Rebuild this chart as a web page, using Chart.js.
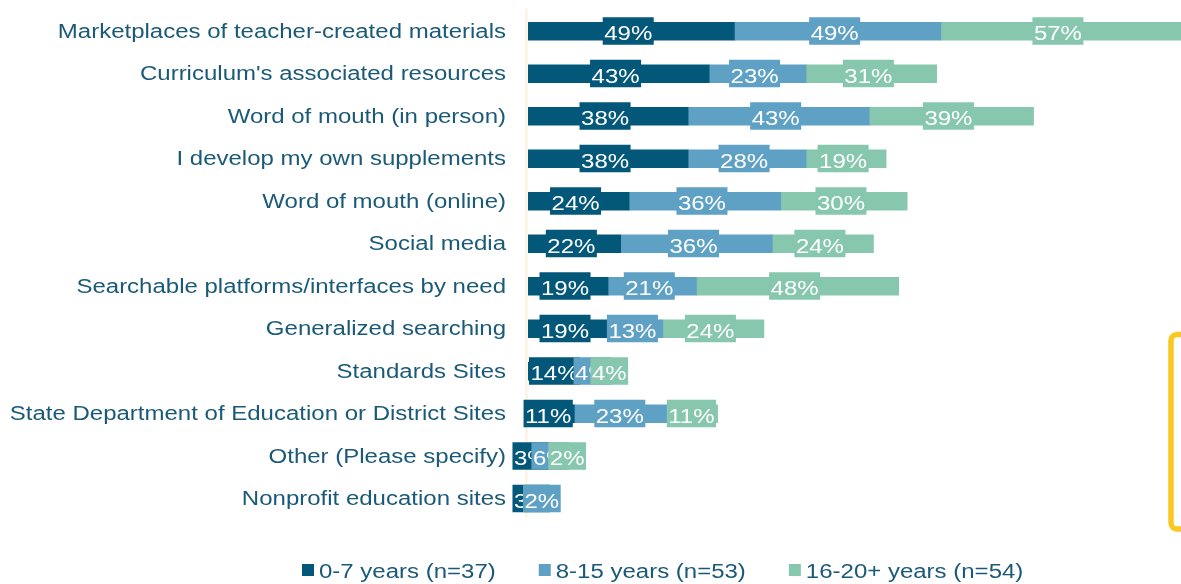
<!DOCTYPE html>
<html>
<head>
<meta charset="utf-8">
<script src="https://cdn.jsdelivr.net/npm/chart.js@4"></script>
<style>
  html, body { margin: 0; padding: 0; background: #ffffff; }
  #wrap { width: 1181px; height: 584px; }
</style>
</head>
<body>
<div id="wrap"><canvas id="chart" width="1181" height="584"></canvas></div>
<script>
// Where teachers find supplemental materials, by years of teaching experience
const categories = [
  'Marketplaces of teacher-created materials',
  "Curriculum's associated resources",
  'Word of mouth (in person)',
  'I develop my own supplements',
  'Word of mouth (online)',
  'Social media',
  'Searchable platforms/interfaces by need',
  'Generalized searching',
  'Standards Sites',
  'State Department of Education or District Sites',
  'Other (Please specify)',
  'Nonprofit education sites'
];
const years0to7 = [49, 43, 38, 38, 24, 22, 19, 19, 14, 11, 3, 3];
const years8to15 = [49, 23, 43, 28, 36, 36, 21, 13, 4, 23, 6, 2];
const years16plus = [57, 31, 39, 19, 30, 24, 48, 24, 4, 11, 2, null];
const seriesNames = ['0-7 years (n=37)', '8-15 years (n=53)', '16-20+ years (n=54)'];
const seriesColors = ['#03587A', '#5FA1C5', '#86C7AE'];

const FONT = '20px "Liberation Sans", Arial, sans-serif';
const TEXT_COLOR = '#1A5A78';
const STRETCH = 1.2; // wide lettering

function stretchedText(ctx, str, x, y, align) {
  const w = ctx.measureText(str).width * STRETCH;
  const left = align === 'right' ? x - w : align === 'center' ? x - w / 2 : x;
  ctx.save();
  ctx.translate(left, y);
  ctx.scale(STRETCH, 1);
  ctx.textAlign = 'left';
  ctx.textBaseline = 'alphabetic';
  ctx.fillText(str, 0, 0);
  ctx.restore();
  return w;
}

const decorations = {
  id: 'decorations',
  beforeDatasetsDraw(chart) {
    const { ctx, chartArea } = chart;
    const yScale = chart.scales.y;
    ctx.save();
    // vertical axis line
    ctx.strokeStyle = '#FCF1D8';
    ctx.lineWidth = 2;
    ctx.beginPath();
    ctx.moveTo(chartArea.left - 1.5, chartArea.top - 1);
    ctx.lineTo(chartArea.left - 1.5, chartArea.bottom - 2);
    ctx.stroke();
    // category labels
    ctx.font = FONT;
    ctx.fillStyle = TEXT_COLOR;
    categories.forEach((name, i) => {
      stretchedText(ctx, name, chartArea.left - 22, yScale.getPixelForTick(i) + 6.5, 'right');
    });
    ctx.restore();
  },
  afterDatasetsDraw(chart) {
    const { ctx } = chart;
    ctx.save();
    ctx.font = FONT;
    chart.data.datasets.forEach((ds, d) => {
      const meta = chart.getDatasetMeta(d);
      meta.data.forEach((bar, i) => {
        const v = ds.data[i];
        if (v === null || v === undefined) return;
        const p = bar.getProps(['x', 'base', 'y'], true);
        const cx = (p.x + p.base) / 2 - 3;
        const text = v + '%';
        const w = ctx.measureText(text).width * STRETCH + 3;
        ctx.fillStyle = ds.backgroundColor;
        ctx.fillRect(cx - w / 2, p.y - 14, w, 27.5);
        ctx.fillStyle = '#ffffff';
        stretchedText(ctx, text, cx, p.y + 9, 'center');
      });
    });
    ctx.restore();
  },
  afterDraw(chart) {
    const { ctx } = chart;
    ctx.save();
    // legend
    ctx.font = FONT;
    let x = 302;
    seriesNames.forEach((name, i) => {
      ctx.fillStyle = seriesColors[i];
      ctx.fillRect(x, 564, 12, 12);
      ctx.fillStyle = TEXT_COLOR;
      const w = stretchedText(ctx, name, x + 17, 578, 'left');
      x += 17 + w + 43;
    });
    // highlight bracket at the right edge
    ctx.strokeStyle = '#F9C824';
    ctx.lineWidth = 5.5;
    ctx.beginPath();
    ctx.roundRect(1171, 334.5, 60, 194.5, 6);
    ctx.stroke();
    ctx.restore();
  }
};

new Chart(document.getElementById('chart'), {
  type: 'bar',
  data: {
    labels: categories,
    datasets: [
      { label: seriesNames[0], data: years0to7, backgroundColor: seriesColors[0] },
      { label: seriesNames[1], data: years8to15, backgroundColor: seriesColors[1] },
      { label: seriesNames[2], data: years16plus, backgroundColor: seriesColors[2] }
    ]
  },
  options: {
    indexAxis: 'y',
    responsive: false,
    animation: false,
    events: [],
    barThickness: 18,
    layout: { padding: { left: 528, right: 0, top: 10, bottom: 64 } },
    scales: {
      x: { stacked: true, min: 0, max: 155, display: false },
      y: { stacked: true, display: false }
    },
    plugins: {
      legend: { display: false },
      tooltip: { enabled: false }
    }
  },
  plugins: [decorations]
});
</script>
</body>
</html>
